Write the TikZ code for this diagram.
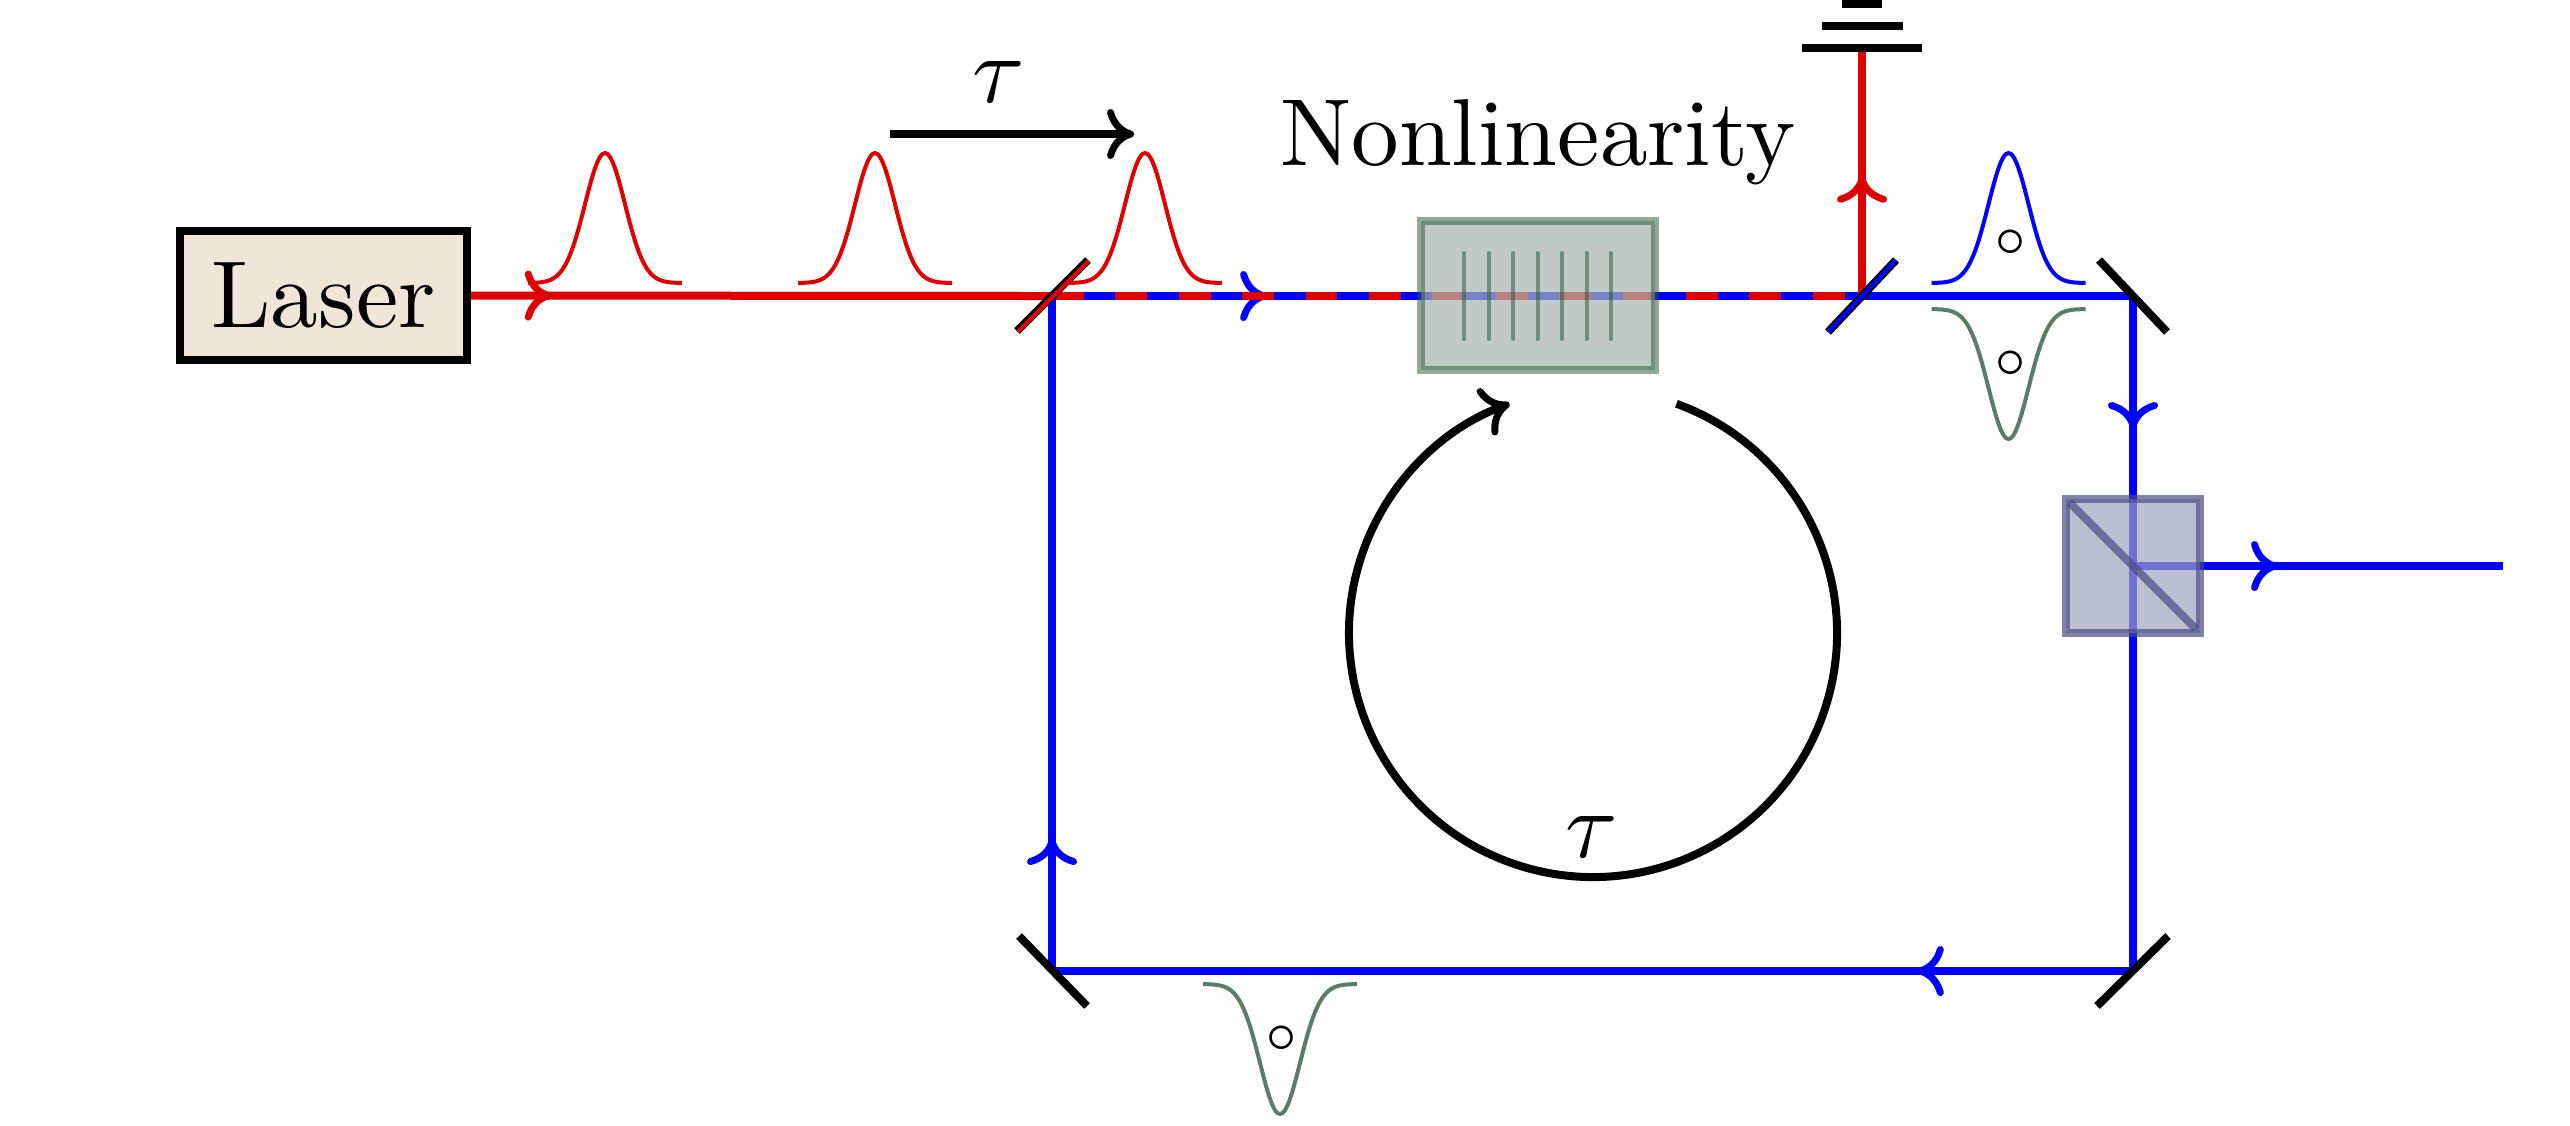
\documentclass[tikz,border=0pt]{standalone}
\usepackage{amsmath}
\usepackage{graphicx}
\usetikzlibrary{arrows.meta,decorations.markings}

\definecolor{beamred}{RGB}{222,0,0}
\definecolor{beamblue}{RGB}{0,0,255}
\definecolor{pulsegreen}{RGB}{90,125,106}
\definecolor{lasertan}{RGB}{239,230,216}
\definecolor{crystalfill}{RGB}{167,181,178}
\definecolor{crystaledge}{RGB}{35,84,55}
\definecolor{cubefill}{RGB}{159,163,191}
\definecolor{cubeedge}{RGB}{71,74,129}

% unit of the drawing
\def\u{0.0065}
\newcommand{\bigtext}[1]{\scalebox{1.76}{#1}}

\tikzset{
  flowtip/.tip={Computer Modern Rightarrow[length=27*\u cm, width=50*\u cm, line width=7*\u cm]},
  midtip/.style={postaction={decorate}, decoration={markings, mark=at position #1 with {\arrow{flowtip}}}},
  redbeam/.style={draw=beamred, line width=8*\u cm},
  bluebeam/.style={draw=beamblue, line width=8*\u cm},
  blackline/.style={draw=black, line width=8*\u cm},
  pulse/.style={line width=4*\u cm, smooth, samples=61, domain=-77:77},
  textnode/.style={inner sep=0pt, outer sep=0pt},
  dotnode/.style={inner sep=0pt, outer sep=0pt},
  crystaltick/.style={draw=crystaledge, draw opacity=0.5, line width=4*\u cm, line cap=round}
}

\begin{document}
\begin{tikzpicture}[x=\u cm, y=-\u cm]
    \useasboundingbox (0,0) rectangle (2570,1125);

    % Points on the beam path
    \coordinate (split1) at (1052,296);
    \coordinate (split2) at (1862,296);
    \coordinate (mirTR) at (2133,296);
    \coordinate (mirBR) at (2133,971);
    \coordinate (mirBL) at (1052,971);
    \coordinate (cube) at (2133,566);
    \coordinate (out) at (2503,566);
    \coordinate (det) at (1862,48);

    % Source
    \node[draw=black, fill=lasertan, line width=8*\u cm, minimum width=287*\u cm, minimum height=129*\u cm, inner sep=0pt] (laser) at (323.5,295.5) {\bigtext{Laser}};

    % Beams
    \draw[bluebeam, midtip=0.199] (split1) -- (split2) -- (mirTR);
    \draw[redbeam, dash pattern=on 31.7*\u cm off 31.7*\u cm] (split1) -- (split2);
    \draw[redbeam, midtip=0.139] (laser.east) -- (split1);
    \draw[redbeam, midtip=0.485] (split2) -- (det);
    \draw[bluebeam, midtip=0.197] (mirTR) -- (mirBR);
    \draw[bluebeam, midtip=0.2] (mirBR) -- (mirBL);
    \draw[bluebeam, midtip=0.197] (mirBL) -- (split1);
    \draw[bluebeam, midtip=0.392] (cube) -- (out);

    % Detector
    \draw[blackline] (1802,48) -- (1922,48);
    \draw[blackline] (1822,26) -- (1903,26);
    \draw[blackline] (1842,3.7) -- (1882,3.7);

    % Nonlinear crystal
    \node[fill=crystalfill, fill opacity=0.72, minimum width=234*\u cm, minimum height=149*\u cm, inner sep=0pt, outer sep=0pt] (crystal) at (1538,295.5) {};
    \draw[draw=crystaledge, draw opacity=0.5, line width=8*\u cm] (crystal.north west) rectangle (crystal.south east);
    \foreach \k in {-3,...,3}
        \draw[crystaltick] (1537.5+\k*24.5,253) -- (1537.5+\k*24.5,339);
    \node[textnode, anchor=base] (nonlin) at (1538,165) {\bigtext{Nonlinearity}};

    % Beam splitter cube
    \node[fill=cubefill, fill opacity=0.7, minimum width=134*\u cm, minimum height=134*\u cm, inner sep=0pt, outer sep=0pt] (pbs) at (2132.5,566) {};
    \draw[draw=cubeedge, draw opacity=0.69, line width=8*\u cm] (pbs.north west) rectangle (pbs.south east);
    \draw[draw=cubeedge, draw opacity=0.69, line width=8*\u cm] (2069,502) -- (2196,629);

    % Mirrors
    \draw[blackline] (2099,260) -- (2167,332);
    \draw[blackline] (2168,936) -- (2097,1006);
    \draw[blackline] (1019,936) -- (1087,1006);
    \draw[blackline] (1017,331) -- (1088,260);
    \draw[draw=beamred, line width=4*\u cm] (1017.7,331.7) -- (1088.7,260.7);
    \draw[blackline] (1828,332) -- (1896,260);
    \draw[draw=beamblue, line width=4*\u cm] (1828,332) -- (1896,260);

    % Pulses
    \foreach \c in {605,875,1145}
        \draw[draw=beamred, pulse] plot ({\c+\x},{283-130*exp(-\x*\x/800)});
    \draw[draw=beamblue, pulse] plot ({2008.5+\x},{283-130*exp(-\x*\x/800)});
    \draw[draw=pulsegreen, pulse] plot ({2008.5+\x},{309+130*exp(-\x*\x/800)});
    \draw[draw=pulsegreen, pulse] plot ({1280+\x},{984+130*exp(-\x*\x/800)});
    \node[dotnode] (dotA) at (2011,243) {\scalebox{1.45}{$\scriptstyle\circ$}};
    \node[dotnode] (dotB) at (2011,364) {\scalebox{1.45}{$\scriptstyle\circ$}};
    \node[dotnode] (dotC) at (1282,1039) {\scalebox{1.45}{$\scriptstyle\circ$}};

    % Delay between pulses
    \coordinate (delayA) at (890,134);
    \coordinate (delayB) at (1134,134);
    \draw[blackline, -{flowtip}] (delayA) -- (delayB);
    \node[textnode] (tauA) at (998.5,81.5) {\bigtext{$\tau$}};

    % Round trip
    \coordinate (loop) at (1593,633);
    \draw[blackline, -{flowtip}] (loop) ++(-70:244) arc[start angle=-70, end angle=250, radius=244];
    \node[textnode] (tauB) at (1592,837) {\bigtext{$\tau$}};
\end{tikzpicture}
\end{document}
